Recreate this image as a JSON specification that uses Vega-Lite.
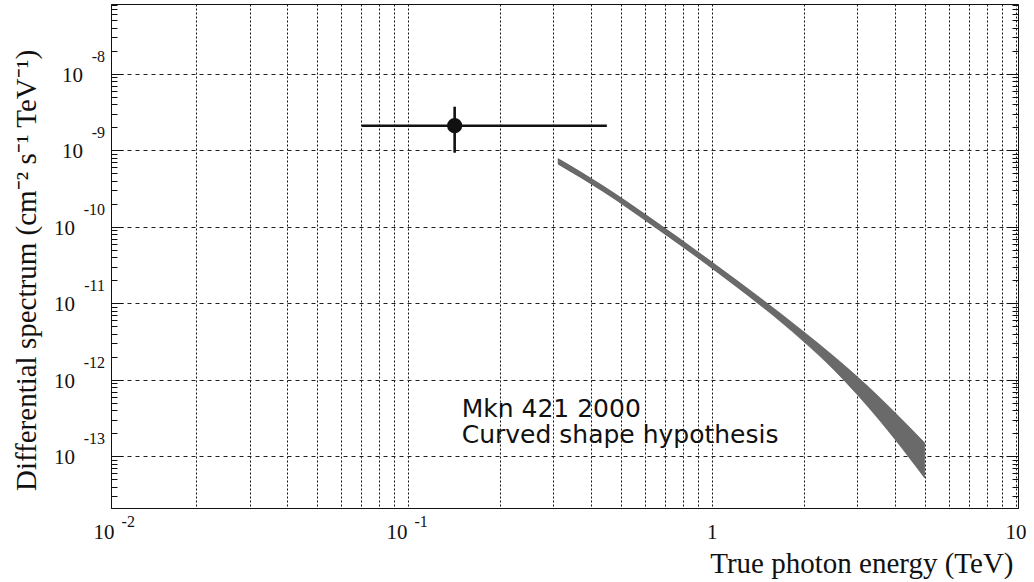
{
  "$schema": "https://vega.github.io/schema/vega-lite/v6.json",
  "width": 907,
  "height": 504,
  "autosize": {"type": "none"},
  "padding": {"left": 111, "top": 4, "right": 16, "bottom": 74},
  "background": "white",
  "config": {
    "view": {"stroke": "#111", "strokeWidth": 1},
    "axis": {"labels": false, "domainColor": "#111", "domainWidth": 1}
  },
  "resolve": {"scale": {"y": "independent"}, "axis": {"y": "independent"}},
  "datasets": {
    "band": [
      {"E": 0.311, "upper": 7.8e-10, "lower": 6.6e-10},
      {"E": 0.437, "upper": 3.44e-10, "lower": 2.9e-10},
      {"E": 0.634, "upper": 1.26e-10, "lower": 1.05e-10},
      {"E": 1.0, "upper": 3.44e-11, "lower": 2.85e-11},
      {"E": 2.0, "upper": 4.25e-12, "lower": 3.15e-12},
      {"E": 2.5, "upper": 2.06e-12, "lower": 1.38e-12},
      {"E": 3.0, "upper": 1.1e-12, "lower": 6.4e-13},
      {"E": 3.57, "upper": 5.77e-13, "lower": 2.88e-13},
      {"E": 4.0, "upper": 3.7e-13, "lower": 1.65e-13},
      {"E": 5.0, "upper": 1.5e-13, "lower": 5.2e-14}
    ],
    "point": [
      {"E": 0.142, "Elo": 0.0703, "Ehi": 0.45, "flux": 2.1e-9, "fluxLo": 9.3e-10, "fluxHi": 3.72e-9}
    ],
    "notes": [
      {"E": 0.1498, "flux": 3.29e-13, "text": "Mkn 421 2000"},
      {"E": 0.1498, "flux": 1.49e-13, "text": "Curved shape hypothesis"}
    ],
    "ylabels": [
      {"v": 1e-8, "base": "10", "exp": "-8"},
      {"v": 1e-9, "base": "10", "exp": "-9"},
      {"v": 1e-10, "base": "10", "exp": "-10"},
      {"v": 1e-11, "base": "10", "exp": "-11"},
      {"v": 1e-12, "base": "10", "exp": "-12"},
      {"v": 1e-13, "base": "10", "exp": "-13"}
    ],
    "xlabels": [
      {"v": 0.01, "base": "10", "exp": "-2"},
      {"v": 0.1, "base": "10", "exp": "-1"}
    ],
    "xplain": [
      {"v": 1, "base": "1"},
      {"v": 10, "base": "10"}
    ]
  },
  "layer": [
    {
      "data": {"name": "band"},
      "mark": {"type": "area", "fill": "#6a6a6a", "stroke": "#444", "strokeWidth": 0.5, "interpolate": "monotone", "clip": false},
      "encoding": {
        "x": {
          "field": "E", "type": "quantitative",
          "scale": {"type": "log", "domain": [0.0105, 10.15], "nice": false},
          "title": "True photon energy (TeV)",
          "axis": {
            "values": [0.02,0.03,0.04,0.05,0.06,0.07,0.08,0.09,0.1,0.2,0.3,0.4,0.5,0.6,0.7,0.8,0.9,1,2,3,4,5,6,7,8,9,10],
            "grid": true, "gridColor": "#111", "gridDash": [2, 2], "gridWidth": 1, "gridOpacity": 1,
            "ticks": false, "labels": false,
            "titleFont": "Liberation Serif", "titleFontSize": 29, "titleFontWeight": "normal", "titleColor": "#111",
            "titleAlign": "right", "titleAnchor": "end", "titleBaseline": "alphabetic",
            "titleX": 902, "titleY": 64
          }
        },
        "y": {
          "field": "upper", "type": "quantitative",
          "scale": {"type": "log", "domain": [2.1e-14, 8.2e-8], "nice": false},
          "title": "Differential spectrum (cm⁻² s⁻¹ TeV⁻¹)",
          "axis": {
            "orient": "left",
            "values": [3e-14,4e-14,5e-14,6e-14,7e-14,8e-14,9e-14,1e-13,2e-13,3e-13,4e-13,5e-13,6e-13,7e-13,8e-13,9e-13,1e-12,2e-12,3e-12,4e-12,5e-12,6e-12,7e-12,8e-12,9e-12,1e-11,2e-11,3e-11,4e-11,5e-11,6e-11,7e-11,8e-11,9e-11,1e-10,2e-10,3e-10,4e-10,5e-10,6e-10,7e-10,8e-10,9e-10,1e-9,2e-9,3e-9,4e-9,5e-9,6e-9,7e-9,8e-9,9e-9,1e-8,2e-8,3e-8,4e-8,5e-8,6e-8,7e-8,8e-8],
            "grid": true, "gridColor": "#222", "gridDash": [4, 4], "gridWidth": 1,
            "gridOpacity": {"condition": {"test": "abs(log(datum.value)/LN10 - round(log(datum.value)/LN10)) < 0.01", "value": 1}, "value": 0},
            "ticks": true, "tickColor": "#111", "tickWidth": 1,
            "tickSize": {"condition": {"test": "abs(log(datum.value)/LN10 - round(log(datum.value)/LN10)) < 0.01", "value": -12}, "value": -6},
            "labels": false,
            "titleFont": "Liberation Serif", "titleFontSize": 29, "titleFontWeight": "normal", "titleColor": "#111",
            "titleAngle": -90, "titleAlign": "center", "titleBaseline": "alphabetic",
            "titleX": -76, "titleY": 266
          }
        },
        "y2": {"field": "lower"}
      }
    },
    {
      "data": {"name": "point"},
      "mark": {"type": "rule", "color": "#111", "strokeWidth": 2.6},
      "encoding": {
        "x": {"field": "Elo", "type": "quantitative", "scale": {"type": "log", "domain": [0.0105, 10.15], "nice": false}},
        "x2": {"field": "Ehi"},
        "y": {
          "field": "flux", "type": "quantitative",
          "scale": {"type": "log", "domain": [2.1e-14, 8.2e-8], "nice": false},
          "title": null,
          "axis": {
            "orient": "right",
            "values": [3e-14,4e-14,5e-14,6e-14,7e-14,8e-14,9e-14,1e-13,2e-13,3e-13,4e-13,5e-13,6e-13,7e-13,8e-13,9e-13,1e-12,2e-12,3e-12,4e-12,5e-12,6e-12,7e-12,8e-12,9e-12,1e-11,2e-11,3e-11,4e-11,5e-11,6e-11,7e-11,8e-11,9e-11,1e-10,2e-10,3e-10,4e-10,5e-10,6e-10,7e-10,8e-10,9e-10,1e-9,2e-9,3e-9,4e-9,5e-9,6e-9,7e-9,8e-9,9e-9,1e-8,2e-8,3e-8,4e-8,5e-8,6e-8,7e-8,8e-8],
            "grid": false, "labels": false, "domain": true, "title": null,
            "ticks": true, "tickColor": "#111", "tickWidth": 1,
            "tickSize": {"condition": {"test": "abs(log(datum.value)/LN10 - round(log(datum.value)/LN10)) < 0.01", "value": -12}, "value": -6}
          }
        }
      }
    },
    {
      "data": {"name": "point"},
      "mark": {"type": "rule", "color": "#111", "strokeWidth": 2.6},
      "encoding": {
        "x": {"field": "E", "type": "quantitative", "scale": {"type": "log", "domain": [0.0105, 10.15], "nice": false}},
        "y": {"field": "fluxLo", "type": "quantitative", "scale": {"type": "log", "domain": [2.1e-14, 8.2e-8], "nice": false}, "axis": null},
        "y2": {"field": "fluxHi"}
      }
    },
    {
      "data": {"name": "point"},
      "mark": {"type": "point", "shape": "circle", "filled": true, "size": 230, "color": "#111", "opacity": 1},
      "encoding": {
        "x": {"field": "E", "type": "quantitative", "scale": {"type": "log", "domain": [0.0105, 10.15], "nice": false}},
        "y": {"field": "flux", "type": "quantitative", "scale": {"type": "log", "domain": [2.1e-14, 8.2e-8], "nice": false}, "axis": null}
      }
    },
    {
      "data": {"name": "notes"},
      "mark": {"type": "text", "align": "left", "baseline": "alphabetic", "font": "DejaVu Sans", "fontSize": 25, "color": "#111"},
      "encoding": {
        "x": {"field": "E", "type": "quantitative", "scale": {"type": "log", "domain": [0.0105, 10.15], "nice": false}},
        "y": {"field": "flux", "type": "quantitative", "scale": {"type": "log", "domain": [2.1e-14, 8.2e-8], "nice": false}, "axis": null},
        "text": {"field": "text"}
      }
    },
    {
      "data": {"name": "ylabels"},
      "transform": [{"filter": "length(datum.exp) > 2"}],
      "mark": {"type": "text", "align": "right", "baseline": "alphabetic", "dx": -36, "dy": 8, "font": "Liberation Serif", "fontSize": 21, "color": "#111", "clip": false},
      "encoding": {
        "x": {"datum": 0.0105, "type": "quantitative", "scale": {"type": "log", "domain": [0.0105, 10.15], "nice": false}},
        "y": {"field": "v", "type": "quantitative", "scale": {"type": "log", "domain": [2.1e-14, 8.2e-8], "nice": false}, "axis": null},
        "text": {"field": "base"}
      }
    },
    {
      "data": {"name": "ylabels"},
      "transform": [{"filter": "length(datum.exp) <= 2"}],
      "mark": {"type": "text", "align": "right", "baseline": "alphabetic", "dx": -28, "dy": 8, "font": "Liberation Serif", "fontSize": 21, "color": "#111", "clip": false},
      "encoding": {
        "x": {"datum": 0.0105, "type": "quantitative", "scale": {"type": "log", "domain": [0.0105, 10.15], "nice": false}},
        "y": {"field": "v", "type": "quantitative", "scale": {"type": "log", "domain": [2.1e-14, 8.2e-8], "nice": false}, "axis": null},
        "text": {"field": "base"}
      }
    },
    {
      "data": {"name": "ylabels"},
      "mark": {"type": "text", "align": "right", "baseline": "alphabetic", "dx": -6, "dy": -12, "font": "Liberation Serif", "fontSize": 16, "color": "#111", "clip": false},
      "encoding": {
        "x": {"datum": 0.0105, "type": "quantitative", "scale": {"type": "log", "domain": [0.0105, 10.15], "nice": false}},
        "y": {"field": "v", "type": "quantitative", "scale": {"type": "log", "domain": [2.1e-14, 8.2e-8], "nice": false}, "axis": null},
        "text": {"field": "exp"}
      }
    },
    {
      "data": {"name": "xlabels"},
      "transform": [{"filter": "datum.exp == '-2'"}],
      "mark": {"type": "text", "align": "right", "baseline": "alphabetic", "dx": 10, "dy": 31, "font": "Liberation Serif", "fontSize": 21, "color": "#111", "clip": false},
      "encoding": {
        "x": {"field": "v", "type": "quantitative", "scale": {"type": "log", "domain": [0.0105, 10.15], "nice": false}},
        "y": {"datum": 2.1e-14, "type": "quantitative", "scale": {"type": "log", "domain": [2.1e-14, 8.2e-8], "nice": false}, "axis": null},
        "text": {"field": "base"}
      }
    },
    {
      "data": {"name": "xlabels"},
      "transform": [{"filter": "datum.exp == '-2'"}],
      "mark": {"type": "text", "align": "left", "baseline": "alphabetic", "dx": 17, "dy": 19, "font": "Liberation Serif", "fontSize": 16, "color": "#111", "clip": false},
      "encoding": {
        "x": {"field": "v", "type": "quantitative", "scale": {"type": "log", "domain": [0.0105, 10.15], "nice": false}},
        "y": {"datum": 2.1e-14, "type": "quantitative", "scale": {"type": "log", "domain": [2.1e-14, 8.2e-8], "nice": false}, "axis": null},
        "text": {"field": "exp"}
      }
    },
    {
      "data": {"name": "xlabels"},
      "transform": [{"filter": "datum.exp != '-2'"}],
      "mark": {"type": "text", "align": "right", "baseline": "alphabetic", "dx": -1, "dy": 31, "font": "Liberation Serif", "fontSize": 21, "color": "#111", "clip": false},
      "encoding": {
        "x": {"field": "v", "type": "quantitative", "scale": {"type": "log", "domain": [0.0105, 10.15], "nice": false}},
        "y": {"datum": 2.1e-14, "type": "quantitative", "scale": {"type": "log", "domain": [2.1e-14, 8.2e-8], "nice": false}, "axis": null},
        "text": {"field": "base"}
      }
    },
    {
      "data": {"name": "xlabels"},
      "transform": [{"filter": "datum.exp != '-2'"}],
      "mark": {"type": "text", "align": "left", "baseline": "alphabetic", "dx": 6, "dy": 19, "font": "Liberation Serif", "fontSize": 16, "color": "#111", "clip": false},
      "encoding": {
        "x": {"field": "v", "type": "quantitative", "scale": {"type": "log", "domain": [0.0105, 10.15], "nice": false}},
        "y": {"datum": 2.1e-14, "type": "quantitative", "scale": {"type": "log", "domain": [2.1e-14, 8.2e-8], "nice": false}, "axis": null},
        "text": {"field": "exp"}
      }
    },
    {
      "data": {"name": "xplain"},
      "mark": {"type": "text", "align": "center", "baseline": "alphabetic", "dx": 0, "dy": 31, "font": "Liberation Serif", "fontSize": 21, "color": "#111", "clip": false},
      "encoding": {
        "x": {"field": "v", "type": "quantitative", "scale": {"type": "log", "domain": [0.0105, 10.15], "nice": false}},
        "y": {"datum": 2.1e-14, "type": "quantitative", "scale": {"type": "log", "domain": [2.1e-14, 8.2e-8], "nice": false}, "axis": null},
        "text": {"field": "base"}
      }
    }
  ]
}
